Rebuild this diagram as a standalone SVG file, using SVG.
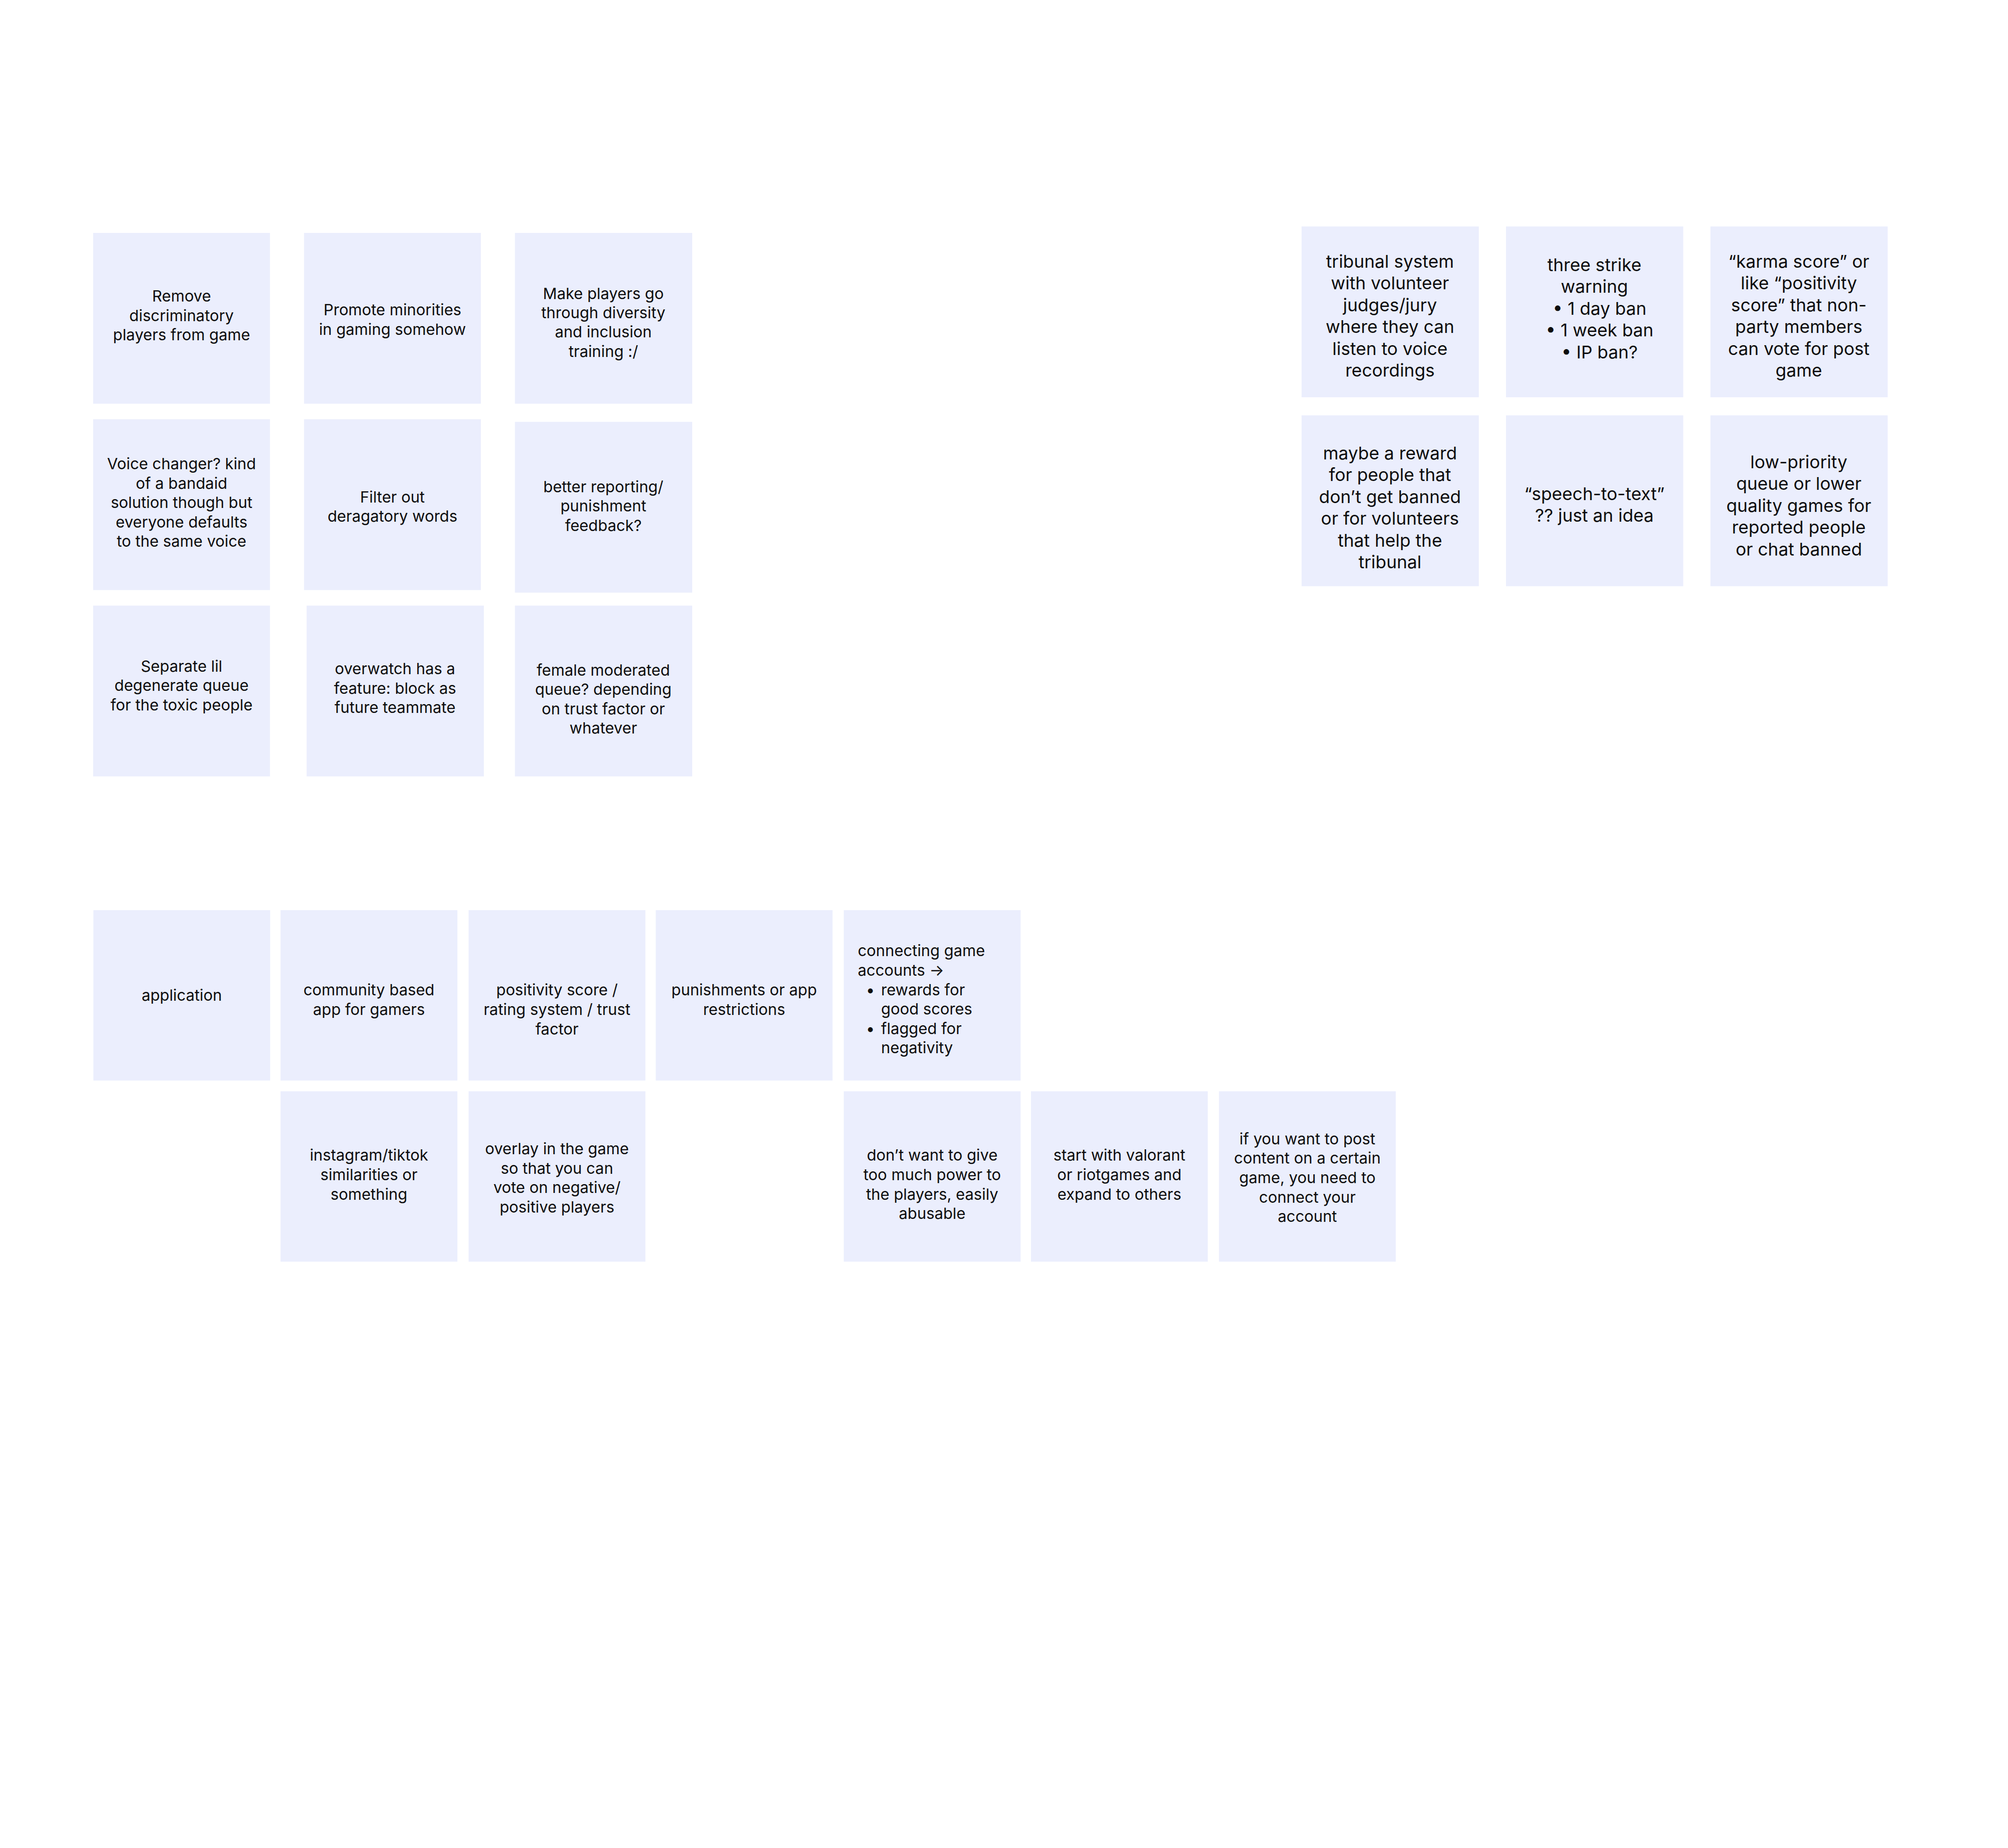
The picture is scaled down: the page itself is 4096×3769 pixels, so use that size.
<svg xmlns="http://www.w3.org/2000/svg" width="4096" height="3769" viewBox="0 0 4096 3769">
<style>
.card{fill:#EBEEFD;}
.t{font-family:Inter,"Noto Sans","Liberation Sans",sans-serif;font-size:36px;fill:#0d0d0d;text-anchor:middle;}
.tl{font-family:Inter,"Noto Sans","Liberation Sans",sans-serif;font-size:36px;fill:#0d0d0d;}
.tb{font-family:Inter,"Noto Sans","Liberation Sans",sans-serif;font-size:41px;fill:#0d0d0d;text-anchor:middle;}
</style>
<rect x="0" y="0" width="4096" height="3769" fill="#FFFFFF"/>
<g transform="scale(0.879725)">
<g id="connectors"/>
<!-- Left grid -->
<g id="n-remove"><rect class="card" x="216" y="540" width="410" height="396"/>
<text class="t" x="421" y="699">Remove</text><text class="t" x="421" y="744">discriminatory</text><text class="t" x="421" y="789">players from game</text></g>
<g id="n-promote"><rect class="card" x="705" y="540" width="410" height="396"/>
<text class="t" x="910" y="731">Promote minorities</text><text class="t" x="910" y="776">in gaming somehow</text></g>
<g id="n-training"><rect class="card" x="1194" y="540" width="411" height="396"/>
<text class="t" x="1399" y="693">Make players go</text><text class="t" x="1399" y="738">through diversity</text><text class="t" x="1399" y="782">and inclusion</text><text class="t" x="1399" y="827">training :/</text></g>
<g id="n-voice"><rect class="card" x="216" y="972" width="410" height="396"/>
<text class="t" x="421" y="1088">Voice changer? kind</text><text class="t" x="421" y="1133">of a bandaid</text><text class="t" x="421" y="1178">solution though but</text><text class="t" x="421" y="1223">everyone defaults</text><text class="t" x="421" y="1268">to the same voice</text></g>
<g id="n-filter"><rect class="card" x="705" y="972" width="410" height="396"/>
<text class="t" x="910" y="1165">Filter out</text><text class="t" x="910" y="1210">deragatory words</text></g>
<g id="n-reporting"><rect class="card" x="1194" y="978" width="411" height="396"/>
<text class="t" x="1399" y="1141">better reporting/</text><text class="t" x="1399" y="1186">punishment</text><text class="t" x="1399" y="1231">feedback?</text></g>
<g id="n-separate"><rect class="card" x="216" y="1404" width="410" height="396"/>
<text class="t" x="421" y="1557">Separate lil</text><text class="t" x="421" y="1602">degenerate queue</text><text class="t" x="421" y="1647">for the toxic people</text></g>
<g id="n-overwatch"><rect class="card" x="711" y="1404" width="411" height="396"/>
<text class="t" x="916" y="1563">overwatch has a</text><text class="t" x="916" y="1608">feature: block as</text><text class="t" x="916" y="1653">future teammate</text></g>
<g id="n-female"><rect class="card" x="1194" y="1404" width="411" height="396"/>
<text class="t" x="1399" y="1566">female moderated</text><text class="t" x="1399" y="1611">queue? depending</text><text class="t" x="1399" y="1656">on trust factor or</text><text class="t" x="1399" y="1701">whatever</text></g>
<!-- Right grid -->
<g id="n-tribunal"><rect class="card" x="3018" y="525" width="411" height="396"/>
<text class="tb" x="3223" y="621">tribunal system</text><text class="tb" x="3223" y="671">with volunteer</text><text class="tb" x="3223" y="722">judges/jury</text><text class="tb" x="3223" y="772">where they can</text><text class="tb" x="3223" y="823">listen to voice</text><text class="tb" x="3223" y="873">recordings</text></g>
<g id="n-strike"><rect class="card" x="3492" y="525" width="411" height="396"/>
<text class="tb" x="3697" y="629">three strike</text><text class="tb" x="3697" y="679">warning</text><text class="tb" x="3709" y="730">•  1 day ban</text><text class="tb" x="3709" y="780">•  1 week ban</text><text class="tb" x="3709" y="831">•  IP ban?</text></g>
<g id="n-karma"><rect class="card" x="3966" y="525" width="411" height="396"/>
<text class="tb" x="4171" y="621">“karma score” or</text><text class="tb" x="4171" y="671">like “positivity</text><text class="tb" x="4171" y="722">score” that non-</text><text class="tb" x="4171" y="772">party members</text><text class="tb" x="4171" y="823">can vote for post</text><text class="tb" x="4171" y="873">game</text></g>
<g id="n-reward"><rect class="card" x="3018" y="963" width="411" height="396"/>
<text class="tb" x="3223" y="1065">maybe a reward</text><text class="tb" x="3223" y="1115">for people that</text><text class="tb" x="3223" y="1166">don’t get banned</text><text class="tb" x="3223" y="1216">or for volunteers</text><text class="tb" x="3223" y="1267">that help the</text><text class="tb" x="3223" y="1317">tribunal</text></g>
<g id="n-speech"><rect class="card" x="3492" y="963" width="411" height="396"/>
<text class="tb" x="3697" y="1160">“speech-to-text”</text><text class="tb" x="3697" y="1210">?? just an idea</text></g>
<g id="n-lowpriority"><rect class="card" x="3966" y="963" width="411" height="396"/>
<text class="tb" x="4171" y="1086">low-priority</text><text class="tb" x="4171" y="1136">queue or lower</text><text class="tb" x="4171" y="1187">quality games for</text><text class="tb" x="4171" y="1237">reported people</text><text class="tb" x="4171" y="1288">or chat banned</text></g>
<!-- Ideations row A -->
<g id="n-application"><rect class="card" x="216.5" y="2110" width="410" height="395"/>
<text class="t" x="421.5" y="2320">application</text></g>
<g id="n-community"><rect class="card" x="650.5" y="2110" width="410" height="395"/>
<text class="t" x="855.5" y="2308">community based</text><text class="t" x="855.5" y="2353">app for gamers</text></g>
<g id="n-positivity"><rect class="card" x="1086.5" y="2110" width="410" height="395"/>
<text class="t" x="1291.5" y="2308">positivity score /</text><text class="t" x="1291.5" y="2353">rating system / trust</text><text class="t" x="1291.5" y="2398">factor</text></g>
<g id="n-punishments"><rect class="card" x="1520.5" y="2110" width="410" height="395"/>
<text class="t" x="1725.5" y="2308">punishments or app</text><text class="t" x="1725.5" y="2353">restrictions</text></g>
<g id="n-connecting"><rect class="card" x="1956.5" y="2110" width="410" height="395"/>
<text class="tl" x="1989" y="2217">connecting game</text><text class="tl" x="1989" y="2262">accounts →</text>
<text class="tl" x="2008" y="2307">•</text><text class="tl" x="2043" y="2307">rewards for</text><text class="tl" x="2043" y="2352">good scores</text>
<text class="tl" x="2008" y="2397">•</text><text class="tl" x="2043" y="2397">flagged for</text><text class="tl" x="2043" y="2442">negativity</text></g>
<!-- Ideations row B -->
<g id="n-instagram"><rect class="card" x="650.5" y="2530" width="410" height="395"/>
<text class="t" x="855.5" y="2691">instagram/tiktok</text><text class="t" x="855.5" y="2736">similarities or</text><text class="t" x="855.5" y="2781">something</text></g>
<g id="n-overlay"><rect class="card" x="1086.5" y="2530" width="410" height="395"/>
<text class="t" x="1291.5" y="2676">overlay in the game</text><text class="t" x="1291.5" y="2721">so that you can</text><text class="t" x="1291.5" y="2766">vote on negative/</text><text class="t" x="1291.5" y="2811">positive players</text></g>
<g id="n-power"><rect class="card" x="1956.5" y="2530" width="410" height="395"/>
<text class="t" x="2161.5" y="2691">don’t want to give</text><text class="t" x="2161.5" y="2736">too much power to</text><text class="t" x="2161.5" y="2781">the players, easily</text><text class="t" x="2161.5" y="2826">abusable</text></g>
<g id="n-valorant"><rect class="card" x="2390.5" y="2530" width="410" height="395"/>
<text class="t" x="2595.5" y="2691">start with valorant</text><text class="t" x="2595.5" y="2736">or riotgames and</text><text class="t" x="2595.5" y="2781">expand to others</text></g>
<g id="n-post"><rect class="card" x="2826.5" y="2530" width="410" height="395"/>
<text class="t" x="3031.5" y="2653">if you want to post</text><text class="t" x="3031.5" y="2698">content on a certain</text><text class="t" x="3031.5" y="2743">game, you need to</text><text class="t" x="3031.5" y="2788">connect your</text><text class="t" x="3031.5" y="2833">account</text></g>
</g>
</svg>
